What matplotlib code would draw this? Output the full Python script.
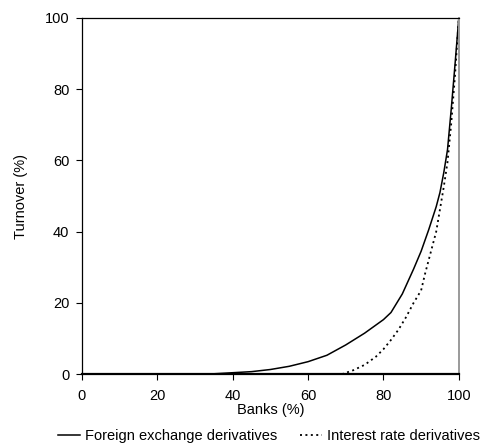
import matplotlib
matplotlib.use("Agg")
import matplotlib.pyplot as plt

plt.rcParams['font.family'] = ['Liberation Sans', 'DejaVu Sans']

# Cumulative share of turnover against cumulative share of banks
fx_banks = [0, 30, 35, 40, 45, 50, 55, 60, 65, 70, 75, 80, 82, 85, 88, 90, 92, 94, 95, 96, 97, 98, 99, 100]
fx_turnover = [0, 0, 0.1, 0.4, 0.7, 1.3, 2.2, 3.5, 5.3, 8.2, 11.5, 15.3, 17.3, 22.5, 29.5, 34.5, 40.5, 47, 51, 56.5, 63, 74.5, 87, 100]

ir_banks = [0, 69, 72, 75, 78, 80, 82, 84, 86, 88, 90, 91, 92, 94, 96, 97, 98, 99, 100]
ir_turnover = [0, 0, 1.1, 2.6, 4.9, 7.0, 9.6, 12.5, 16, 20, 23.5, 28, 32, 40, 52.5, 59.5, 70.5, 84, 100]

x_ticks = [0, 20, 40, 60, 80, 100]
y_ticks = [0, 20, 40, 60, 80, 100]

FS = 10.5

fig = plt.figure(figsize=(4.85, 4.47), dpi=100)
ax = fig.add_axes([0.169, 0.163, 0.777, 0.797])

ax.plot(fx_banks, fx_turnover, color='black', lw=1.1, ls='-',
        label='Foreign exchange derivatives')
ax.plot(ir_banks, ir_turnover, color='black', lw=1.3, ls=(0, (1.1, 1.9)),
        label='Interest rate derivatives')

ax.set_xlim(0, 100)
ax.set_ylim(0, 100)
ax.set_xticks(x_ticks)
ax.set_yticks(y_ticks)
ax.tick_params(axis='both', direction='out', length=4, width=0.8,
               labelsize=FS, colors='black')
ax.tick_params(axis='x', pad=7)
ax.tick_params(axis='y', pad=5)

for side in ('left', 'top'):
    ax.spines[side].set_color('black')
    ax.spines[side].set_linewidth(0.9)
ax.spines['bottom'].set_color('black')
ax.spines['bottom'].set_linewidth(1.6)
ax.spines['right'].set_color('#9a9a9a')
ax.spines['right'].set_linewidth(1.4)

ax.set_xlabel('Banks (%)', fontsize=FS, labelpad=0)
ax.set_ylabel('Turnover (%)', fontsize=FS, labelpad=12)

fig.legend(loc='center', bbox_to_anchor=(0.555, 0.025), ncol=2, frameon=False,
           fontsize=FS, handlelength=1.5, handletextpad=0.35, columnspacing=1.6,
           borderaxespad=0, borderpad=0)

fig.savefig('out.png', dpi=100)
